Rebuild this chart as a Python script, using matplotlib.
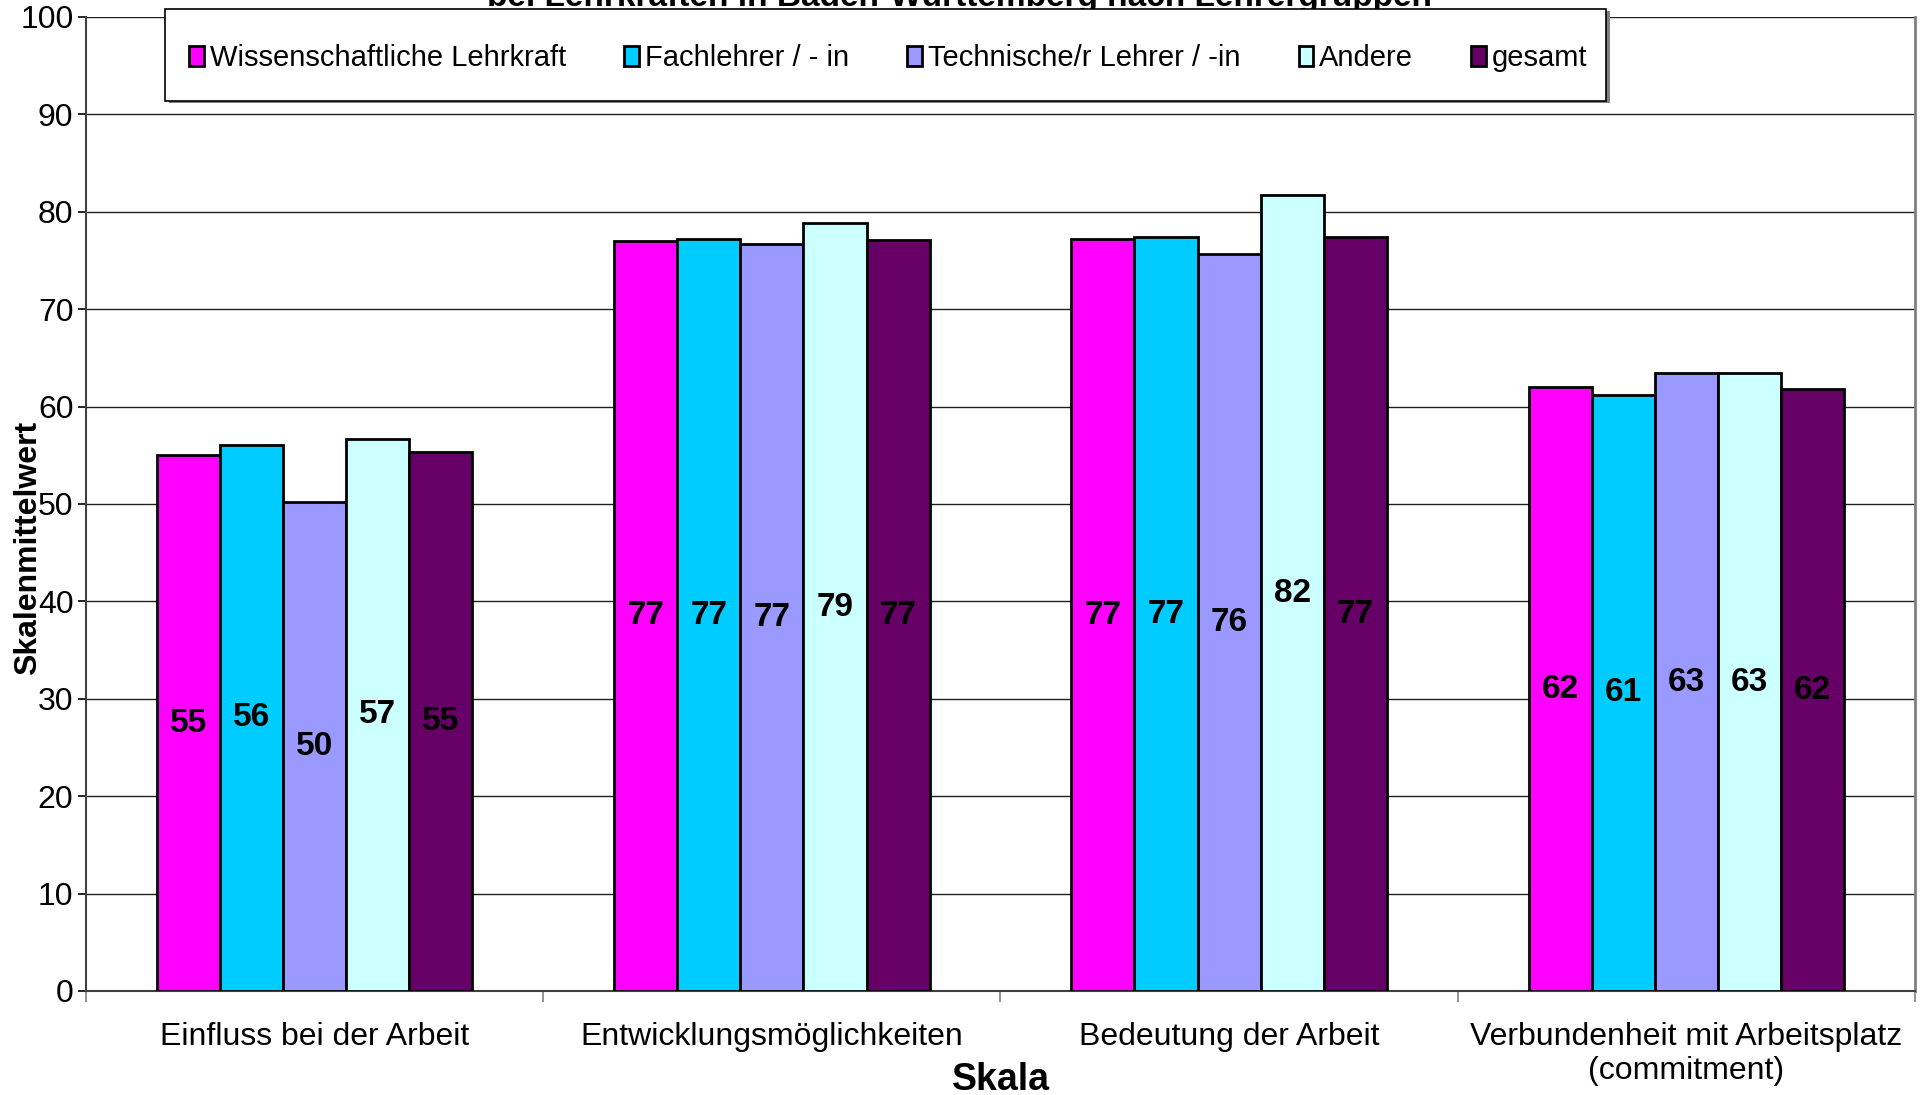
import numpy as np
import matplotlib.pyplot as plt
from matplotlib.patches import Rectangle

plt.rcParams['font.family'] = ['Liberation Sans', 'DejaVu Sans']

categories = ['Einfluss bei der Arbeit', 'Entwicklungsmöglichkeiten',
              'Bedeutung der Arbeit', 'Verbundenheit mit Arbeitsplatz\n(commitment)']
groups = ['Wissenschaftliche Lehrkraft', 'Fachlehrer / - in',
          'Technische/r Lehrer / -in', 'Andere', 'gesamt']
colors = ['#FF00FF', '#00CCFF', '#9999FF', '#CCFFFF', '#660066']

wiss = [55.0, 77.0, 77.2, 62.0]
fach = [56.1, 77.2, 77.4, 61.2]
tech = [50.2, 76.7, 75.7, 63.4]
andere = [56.7, 78.8, 81.7, 63.4]
gesamt = [55.3, 77.1, 77.4, 61.8]
values = [wiss, fach, tech, andere, gesamt]

fig = plt.figure(figsize=(19.27, 10.95), dpi=100)
ax = fig.add_axes([0.0446, 0.095, 0.9492, 0.8895])

x = np.arange(len(categories))
w = 0.138
for i, (vals, c, name) in enumerate(zip(values, colors, groups)):
    pos = x + (i - 2) * w
    ax.bar(pos, vals, w, color=c, edgecolor='black', linewidth=2.0,
           label=name, zorder=3)
    for p, v in zip(pos, vals):
        ax.text(p, v / 2, '%d' % round(v), ha='center', va='center',
                fontsize=24, fontweight='bold', zorder=4)

ax.set_xlim(-0.5, len(categories) - 0.5)
ax.set_ylim(0, 100)
ax.set_yticks(range(0, 101, 10))
ax.tick_params(axis='y', labelsize=23, length=6, width=1.2, pad=3)
ax.set_xticks(np.arange(-0.5, len(categories), 1))
ax.set_xticklabels([])
ax.set_xticks(x, minor=True)
ax.set_xticklabels(categories, minor=True, fontsize=23, linespacing=1.2)
ax.tick_params(axis='x', which='major', length=8, width=1.2, color='#808080')
ax.tick_params(axis='x', which='minor', length=0, pad=22)
ax.yaxis.grid(True, color='#202020', linewidth=1.0, zorder=0)

ax.spines['top'].set_visible(False)
ax.spines['right'].set_color('#808080')
ax.spines['right'].set_linewidth(2)
ax.spines['left'].set_color('#404040')
ax.spines['left'].set_linewidth(1.5)
ax.spines['bottom'].set_color('#404040')
ax.spines['bottom'].set_linewidth(1.5)

ax.set_xlabel('Skala', fontsize=27, fontweight='bold')
ax.xaxis.set_label_coords(0.5, -0.073)
# the label sits over the tick numbers, like in the original
ax.set_ylabel('Skalenmittelwert', fontsize=23, fontweight='bold')
ax.yaxis.set_label_coords(-0.0235, 0.455)

fig.text(0.498, 0.9945, 'bei Lehrkräften in Baden-Württemberg nach Lehrergruppen',
         ha='center', va='baseline', fontsize=24, fontweight='bold', zorder=1)

# legend box with shadow
fig.patches.append(Rectangle((0.0876, 0.9058), 0.7478, 0.084, transform=fig.transFigure,
                             facecolor='#808080', edgecolor='none', zorder=5))
fig.patches.append(Rectangle((0.0856, 0.9078), 0.7478, 0.084, transform=fig.transFigure,
                             facecolor='white', edgecolor='black', linewidth=1.2, zorder=6))
leg = fig.legend(loc='center', bbox_to_anchor=(0.461, 0.947), ncol=5, frameon=False,
                 fontsize=21, handlelength=0.5, handleheight=0.7, handletextpad=0.2,
                 columnspacing=2.0)
leg.set_zorder(7)

fig.savefig('out.png', dpi=100)
